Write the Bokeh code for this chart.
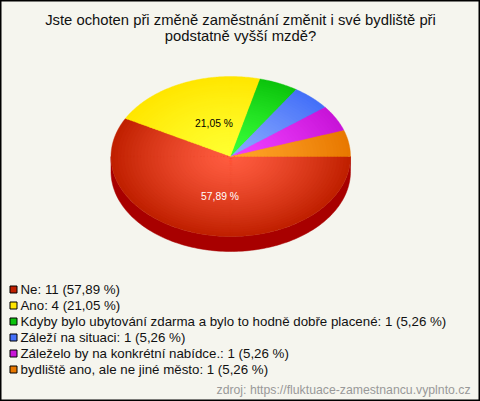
import numpy as np
from bokeh.plotting import figure
from bokeh.core.properties import value
from bokeh.embed import file_html
from bokeh.resources import INLINE

title_lines = ["Jste ochoten při změně zaměstnání změnit i své bydliště při", "podstatně vyšší mzdě?"]
categories = ["Ne", "Ano", "Kdyby bylo ubytování zdarma a bylo to hodně dobře placené",
              "Záleží na situaci", "Záleželo by na konkrétní nabídce.", "bydliště ano, ale ne jiné město"]
counts = [11, 4, 1, 1, 1, 1]
edge_colors = ["#c02000", "#ffe600", "#0cc40c", "#4470f8", "#c814d8", "#e87800"]
centre_colors = ["#ff5c40", "#ffff30", "#38ff38", "#88a8ff", "#f040ff", "#ffa428"]
side_color = "#a80000"
bg_color = "#f5f5ee"
source_text = "zdroj: https://fluktuace-zamestnancu.vyplnto.cz"

FONT = value("Liberation Sans")
cx, cy, rx, ry, depth = 230.25, 156, 119.75, 80, 15
total = sum(counts)
pct = [f"{c / total * 100:.2f}".replace(".", ",") + " %" for c in counts]

p = figure(width=480, height=401, x_range=(0, 480), y_range=(401, 0),
           output_backend="svg", toolbar_location=None, min_border=0,
           background_fill_color=bg_color, border_fill_color=bg_color)
p.axis.visible = False
p.grid.visible = False
p.outline_line_color = "#000000"
p.outline_line_width = 2


def hex_rgb(h):
    return np.array([int(h[i:i + 2], 16) for i in (1, 3, 5)], dtype=float)


# side wall
t = np.linspace(0, np.pi, 120)
wx = cx + rx * np.cos(t)
wy = cy + ry * np.sin(t)
p.patch(np.r_[wx, wx[::-1]], np.r_[wy, wy[::-1] + depth], fill_color=side_color, line_color=side_color, line_width=0.5)

# top face: slices clockwise from east, each painted outer to inner for the radial shading
edges = np.cumsum([0] + counts) / total * 2 * np.pi
N = 36
for k in range(N, 0, -1):
    f = k / N
    w = f ** 1.3
    for i in range(len(counts)):
        a = np.linspace(edges[i], edges[i + 1], max(4, int(counts[i] * 30)))
        xs = np.r_[cx, cx + f * rx * np.cos(a)]
        ys = np.r_[cy, cy + f * ry * np.sin(a)]
        c = hex_rgb(centre_colors[i]) * (1 - w) + hex_rgb(edge_colors[i]) * w
        col = "#%02x%02x%02x" % tuple(int(round(v)) for v in c)
        p.patch(xs, ys, fill_color=col, line_color=col, line_width=0.4)

# value labels
p.text([219.5, 213.5], [196, 123], text=pct[:2], text_color=["#ffffff", "#000000"], text_font=FONT,
       text_font_size="10.3px", text_align="center", text_baseline="middle")

# title
p.text([240, 240], [19.5, 35], text=title_lines, text_color="#111111", text_font=FONT,
       text_font_size="14.8px", text_align="center", text_baseline="middle")

# legend
rows = [289 + 16 * i for i in range(len(categories))]
p.rect([13] * len(rows), rows, width=7, height=7, fill_color=edge_colors, line_color="#000000", line_width=1)
labels = [f"{c}: {n} ({q})" for c, n, q in zip(categories, counts, pct)]
p.text([20] * len(rows), rows, text=labels, text_color="#111111", text_font=FONT,
       text_font_size="13.3px", text_align="left", text_baseline="middle")

# source
p.text([470], [389], text=[source_text], text_color="#999999", text_font=FONT,
       text_font_size="12.25px", text_align="right", text_baseline="middle")

open("out.html", "w").write(file_html(p, INLINE))
